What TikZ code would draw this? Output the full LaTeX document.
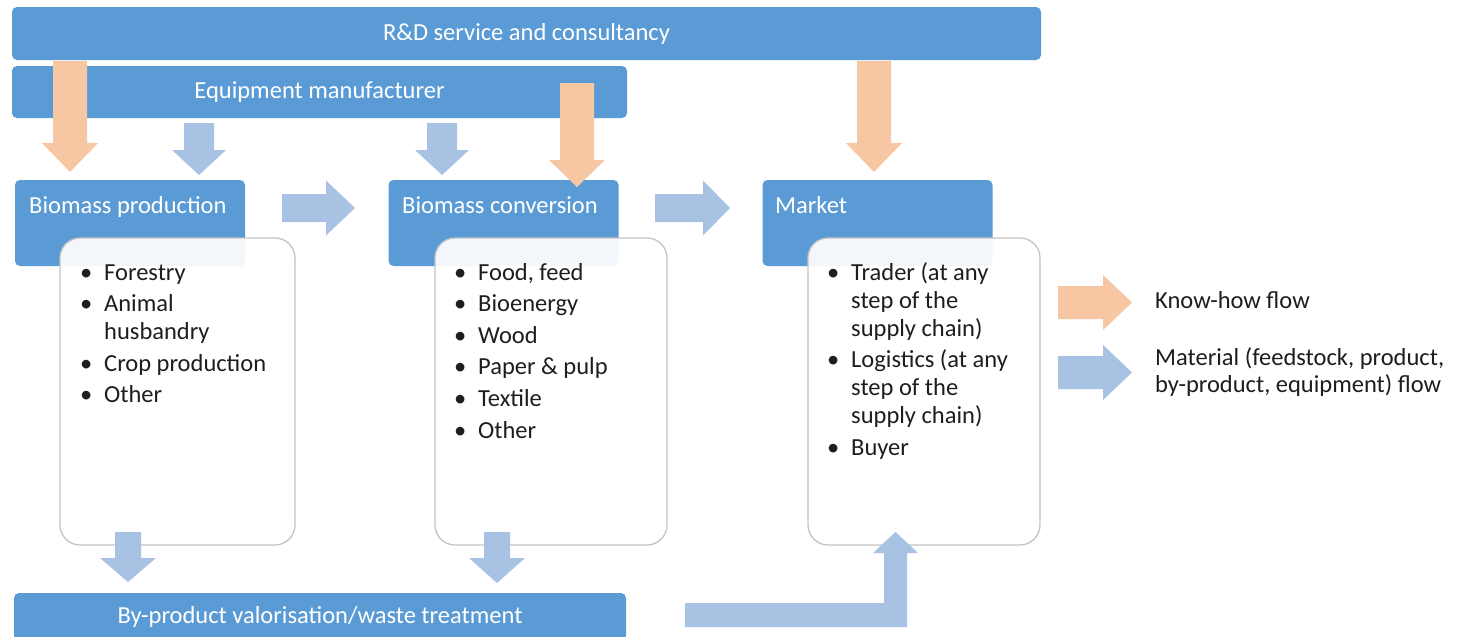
\documentclass[tikz,border=0pt]{standalone}
\usepackage{fontspec}
\setmainfont{Carlito}
\definecolor{hdrblue}{HTML}{5B9BD5}
\definecolor{matblue}{HTML}{A7C2E3}
\definecolor{kworange}{HTML}{F7C6A3}
\definecolor{boxgrey}{HTML}{C4C4C4}
\definecolor{txtcol}{HTML}{1E1E1E}
\newcommand\varrow[7]{% style, x, ytail, yheadbase, ytip, shafthalf, headhalf
  \fill[#1] (#2-#6,#3) -- (#2+#6,#3) -- (#2+#6,#4) -- (#2+#7,#4) -- (#2,#5) -- (#2-#7,#4) -- (#2-#6,#4) -- cycle;}
\newcommand\harrow[7]{% style, y, xtail, xheadbase, xtip, shafthalf, headhalf
  \fill[#1] (#3,#2-#6) -- (#4,#2-#6) -- (#4,#2-#7) -- (#5,#2) -- (#4,#2+#7) -- (#4,#2+#6) -- (#3,#2+#6) -- cycle;}
\tikzset{
  bluebox/.style={fill=hdrblue, draw=none, rounded corners=5pt, inner sep=0pt, text=white,
    font=\fontsize{24.5}{28}\selectfont},
  listbox/.style={fill=white, fill opacity=0.93, draw=boxgrey, line width=1.3pt, rounded corners=20pt, inner sep=0pt},
  hdrtext/.style={text=white, font=\fontsize{24.5}{28}\selectfont, inner sep=0pt, anchor=base west},
  listtext/.style={text=txtcol, font=\fontsize{24.5}{28}\selectfont, inner sep=0pt, anchor=base west},
  know/.style={fill=kworange},
  mat/.style={fill=matblue},
}
\begin{document}
\begin{tikzpicture}[x=1pt,y=-1pt]
\useasboundingbox[fill=white] (0,0) rectangle (1460,637);

% top bars
\node[bluebox, minimum width=1029pt, minimum height=53pt] (rd) at (526.5,33.5) {R\&D service and consultancy};
\node[bluebox, minimum width=615pt, minimum height=52pt] (eq) at (319.5,92) {Equipment manufacturer};

% stage headers
\node[bluebox, minimum width=230pt, minimum height=86pt] (bp) at (130,223) {};
\node[bluebox, minimum width=230pt, minimum height=86pt] (bc) at (503.5,223) {};
\node[bluebox, minimum width=230pt, minimum height=86pt] (mk) at (877.5,223) {};
\node[hdrtext] (bpt) at (29,213) {Biomass production};
\node[hdrtext] (bct) at (402,213) {Biomass conversion};
\node[hdrtext] (mkt) at (775,213) {Market};

% list boxes
\node[listbox, minimum width=235pt, minimum height=307pt] (l1) at (177.5,391.5) {};
\node[listbox, minimum width=232pt, minimum height=307pt] (l2) at (551,391.5) {};
\node[listbox, minimum width=232pt, minimum height=307pt] (l3) at (924,391.5) {};

% bottom bar
\node[bluebox, minimum width=612pt, minimum height=48pt] (bw) at (320,617) {By-product valorisation/waste treatment};

% list texts
\foreach \yy/\lbl/\bul [count=\i] in {280/Forestry/1, 311.5/Animal/1, 339.5/husbandry/0, 371/Crop production/1, 402.5/Other/1}
  {\node[listtext] (a\i) at (104,\yy) {\lbl};
   \ifnum\bul=1 \node[listtext] (ab\i) at (80,\yy) {•};\fi}
\foreach \yy/\lbl/\bul [count=\i] in {280/{Food, feed}/1, 311.6/Bioenergy/1, 343.2/Wood/1, 374.8/Paper \& pulp/1, 406.4/Textile/1, 438/Other/1}
  {\node[listtext] (b\i) at (478,\yy) {\lbl};
   \ifnum\bul=1 \node[listtext] (bb\i) at (454,\yy) {•};\fi}
\foreach \yy/\lbl/\bul [count=\i] in {280/Trader (at any/1, 308/step of the/0, 336/supply chain)/0, 367.5/Logistics (at any/1, 395.5/step of the/0, 423.5/supply chain)/0, 455/Buyer/1}
  {\node[listtext] (c\i) at (851,\yy) {\lbl};
   \ifnum\bul=1 \node[listtext] (cb\i) at (827,\yy) {•};\fi}

% material flow arrows
\varrow{mat}{199}{123}{150}{175}{15}{27}
\varrow{mat}{442}{123}{150}{175}{15}{27}
\harrow{mat}{208}{282}{326}{355}{14}{27.5}
\harrow{mat}{208}{655}{703}{730}{14}{27.5}
\varrow{mat}{128}{532}{558}{582}{13}{28}
\varrow{mat}{497}{532}{558}{583}{13}{28}
\fill[mat] (685,603) -- (884,603) -- (884,553) -- (873,553) -- (895.5,532) -- (918,553) -- (907,553) -- (907,627) -- (685,627) -- cycle;

% know-how arrows
\varrow{know}{70}{61}{143}{172}{17}{28}
\varrow{know}{577}{83}{160}{187}{17}{28}
\varrow{know}{874}{61}{143}{172}{17}{28}

% legend
\harrow{know}{302.5}{1058}{1103}{1132}{16.5}{27.5}
\harrow{mat}{372.5}{1058}{1103}{1132}{16.5}{27.5}
\node[listtext] (lg1) at (1155,308) {Know-how flow};
\node[listtext] (lg2) at (1155,365) {Material (feedstock, product,};
\node[listtext] (lg3) at (1155,392) {by-product, equipment) flow};
\end{tikzpicture}
\end{document}
